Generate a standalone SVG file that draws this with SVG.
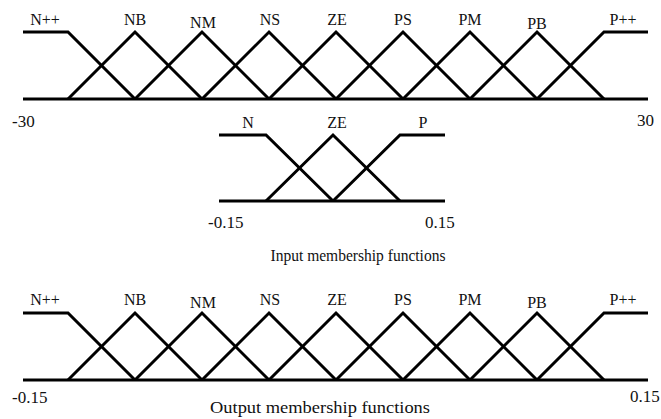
<svg xmlns="http://www.w3.org/2000/svg" width="661" height="419" viewBox="0 0 661 419">
<style>
.mf{fill:none;stroke:#000;stroke-width:3;stroke-linejoin:miter;stroke-linecap:butt}
.ax{fill:none;stroke:#000;stroke-width:3.2}
.lb{font-family:"Liberation Serif","Times New Roman",serif;font-size:16px;fill:#111;text-anchor:middle}
.nm{font-family:"Liberation Serif","Times New Roman",serif;font-size:17px;fill:#111}
.cap{font-family:"Liberation Serif","Times New Roman",serif;font-size:17px;fill:#111}
</style>
<rect width="661" height="419" fill="#fff"/>

<!-- Input chart (error) -->
<g id="input-axis">
<line class="ax" x1="23" y1="99" x2="648" y2="99"/>
<text class="nm" x="12" y="127">-30</text>
<text class="nm" x="637" y="126">30</text>
</g>
<g id="in-Npp"><polyline class="mf" points="23,32 68,32 135,99"/><text class="lb" x="45" y="25">N++</text></g>
<g id="in-NB"><polyline class="mf" points="68,99 135,32 202,99"/><text class="lb" x="135" y="25">NB</text></g>
<g id="in-NM"><polyline class="mf" points="135,99 202,32 269,99"/><text class="lb" x="203" y="28">NM</text></g>
<g id="in-NS"><polyline class="mf" points="202,99 269,32 336,99"/><text class="lb" x="270" y="25">NS</text></g>
<g id="in-ZE"><polyline class="mf" points="269,99 336,32 403,99"/><text class="lb" x="337" y="25">ZE</text></g>
<g id="in-PS"><polyline class="mf" points="336,99 403,32 470,99"/><text class="lb" x="403" y="25">PS</text></g>
<g id="in-PM"><polyline class="mf" points="403,99 470,32 537,99"/><text class="lb" x="470" y="25">PM</text></g>
<g id="in-PB"><polyline class="mf" points="470,99 537,32 604,99"/><text class="lb" x="537" y="29">PB</text></g>
<g id="in-Ppp"><polyline class="mf" points="537,99 604,32 648,32"/><text class="lb" x="623" y="25">P++</text></g>

<!-- Input chart (change of error) -->
<g id="input2-axis">
<line class="ax" x1="219" y1="201" x2="445" y2="201"/>
<text class="nm" x="208" y="228">-0.15</text>
<text class="nm" x="425" y="228">0.15</text>
</g>
<g id="in2-N"><polyline class="mf" points="219,135 266,135 333,201"/><text class="lb" x="248" y="128">N</text></g>
<g id="in2-ZE"><polyline class="mf" points="266,201 333,135 400,201"/><text class="lb" x="337" y="128">ZE</text></g>
<g id="in2-P"><polyline class="mf" points="333,201 400,135 445,135"/><text class="lb" x="423" y="128">P</text></g>
<text class="cap" x="358" y="261" text-anchor="middle" textLength="175" lengthAdjust="spacingAndGlyphs">Input membership functions</text>

<!-- Output chart -->
<g id="output-axis">
<line class="ax" x1="23" y1="380" x2="648" y2="380"/>
<text class="nm" x="12" y="403">-0.15</text>
<text class="nm" x="630" y="402">0.15</text>
</g>
<g id="out-Npp"><polyline class="mf" points="23,313 68,313 135,380"/><text class="lb" x="45" y="305">N++</text></g>
<g id="out-NB"><polyline class="mf" points="68,380 135,313 202,380"/><text class="lb" x="135" y="305">NB</text></g>
<g id="out-NM"><polyline class="mf" points="135,380 202,313 269,380"/><text class="lb" x="203" y="308">NM</text></g>
<g id="out-NS"><polyline class="mf" points="202,380 269,313 336,380"/><text class="lb" x="270" y="305">NS</text></g>
<g id="out-ZE"><polyline class="mf" points="269,380 336,313 403,380"/><text class="lb" x="337" y="305">ZE</text></g>
<g id="out-PS"><polyline class="mf" points="336,380 403,313 470,380"/><text class="lb" x="403" y="305">PS</text></g>
<g id="out-PM"><polyline class="mf" points="403,380 470,313 537,380"/><text class="lb" x="470" y="305">PM</text></g>
<g id="out-PB"><polyline class="mf" points="470,380 537,313 604,380"/><text class="lb" x="537" y="308">PB</text></g>
<g id="out-Ppp"><polyline class="mf" points="537,380 604,313 648,313"/><text class="lb" x="623" y="305">P++</text></g>
<text class="cap" x="320" y="413" text-anchor="middle" textLength="220" lengthAdjust="spacingAndGlyphs">Output membership functions</text>

<g id="connectors"></g>
</svg>
